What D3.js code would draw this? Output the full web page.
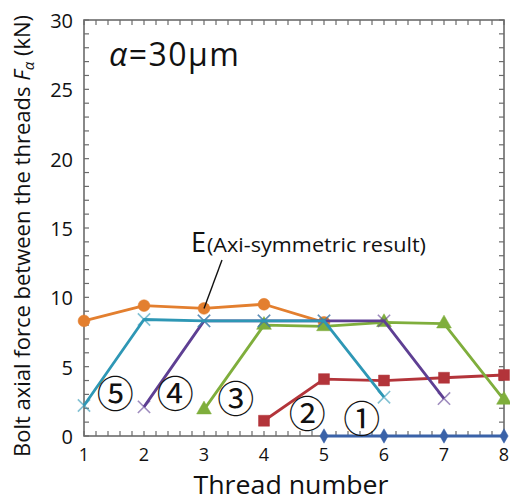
<!DOCTYPE html>
<html>
<head>
<meta charset="utf-8">
<script src="https://cdn.jsdelivr.net/npm/d3@7"></script>
<style>
  html, body { margin: 0; padding: 0; background: #fff; }
  svg { display: block; }
  text { font-family: "Open Sans", "Noto Sans", sans-serif; fill: #111; }
</style>
</head>
<body>
<svg id="chart" width="510" height="504"></svg>
<script>
// Thread numbers and axis ticks
const threads = [1, 2, 3, 4, 5, 6, 7, 8];
const yTicks = [0, 5, 10, 15, 20, 25, 30];

// Bolt axial force between threads (kN) for each case
const caseE = { x: [1, 2, 3, 4, 5], y: [8.3, 9.4, 9.2, 9.5, 8.2] };
const case1 = { x: [5, 6, 7, 8], y: [0, 0, 0, 0] };
const case2 = { x: [4, 5, 6, 7, 8], y: [1.1, 4.1, 4.0, 4.2, 4.4] };
const case3 = { x: [3, 4, 5, 6, 7, 8], y: [1.9, 8.0, 7.9, 8.2, 8.1, 2.6] };
const case4 = { x: [2, 3, 4, 5, 6, 7], y: [2.1, 8.3, 8.3, 8.3, 8.3, 2.7] };
const case5 = { x: [1, 2, 3, 4, 5, 6], y: [2.2, 8.4, 8.3, 8.3, 8.3, 2.8] };

// Labels placed next to each case curve: [label, thread, force]
const caseLabels = [
  ["①", 5.63, 1.4],
  ["②", 4.72, 1.7],
  ["③", 3.53, 2.8],
  ["④", 2.52, 3.2],
  ["⑤", 1.52, 3.2]
];

const series = [
  { d: caseE, color: "#E37F2F", marker: "circle" },
  { d: case1, color: "#3A62A8", marker: "diamond" },
  { d: case2, color: "#B3343A", marker: "square" },
  { d: case3, color: "#7FAE3C", marker: "triangle" },
  { d: case4, color: "#5E3F93", marker: "cross" },
  { d: case5, color: "#2E97B5", marker: "cross" }
];

const svg = d3.select("#chart");
const m = { left: 84, right: 6, top: 20, bottom: 68 };
const W = 510, H = 504;
const x = d3.scaleLinear().domain([1, 8]).range([m.left, W - m.right]);
const y = d3.scaleLinear().domain([0, 30]).range([H - m.bottom, m.top]);

const frameColor = "#6b6b6b";

// Frame with inward ticks on every side
const g = svg.append("g");
const minorX = d3.range(1, 8.001, 0.2);
const minorY = d3.range(0, 30.001, 1);
g.selectAll(".tb").data(minorX).join("line")
  .attr("x1", d => x(d)).attr("x2", d => x(d))
  .attr("y1", y(0)).attr("y2", y(0) - 5)
  .attr("stroke", frameColor).attr("stroke-width", 1.2);
g.selectAll(".tt").data(minorX).join("line")
  .attr("x1", d => x(d)).attr("x2", d => x(d))
  .attr("y1", y(30)).attr("y2", y(30) + 5)
  .attr("stroke", frameColor).attr("stroke-width", 1.2);
g.selectAll(".tl").data(minorY).join("line")
  .attr("x1", x(1)).attr("x2", x(1) + 5)
  .attr("y1", d => y(d)).attr("y2", d => y(d))
  .attr("stroke", frameColor).attr("stroke-width", 1.2);
g.selectAll(".tr").data(minorY).join("line")
  .attr("x1", x(8)).attr("x2", x(8) - 5)
  .attr("y1", d => y(d)).attr("y2", d => y(d))
  .attr("stroke", frameColor).attr("stroke-width", 1.2);
g.append("rect")
  .attr("x", x(1)).attr("y", y(30))
  .attr("width", x(8) - x(1)).attr("height", y(0) - y(30))
  .attr("fill", "none").attr("stroke", frameColor).attr("stroke-width", 1.6);

// Tick labels
svg.selectAll(".xl").data(threads).join("text")
  .attr("x", d => x(d)).attr("y", y(0) + 25)
  .attr("text-anchor", "middle").attr("font-size", 18)
  .text(d => d);
svg.selectAll(".yl").data(yTicks).join("text")
  .attr("x", x(1) - 11).attr("y", d => y(d) + 8)
  .attr("text-anchor", "end").attr("font-size", 20)
  .text(d => d);

// Axis titles
svg.append("text")
  .attr("x", 291).attr("y", 494)
  .attr("text-anchor", "middle").attr("font-size", 26)
  .attr("textLength", 195).attr("lengthAdjust", "spacingAndGlyphs")
  .text("Thread number");

const yt = svg.append("text")
  .attr("transform", "translate(30,236) rotate(-90)")
  .attr("text-anchor", "middle").attr("font-size", 22);
yt.append("tspan").text("Bolt axial force between the threads ");
yt.append("tspan").attr("font-style", "italic").text("F");
yt.append("tspan").attr("font-style", "italic").attr("font-size", 15).attr("dy", 4).text("α");
yt.append("tspan").attr("dy", -4).text(" (kN)");

// Lines and markers
const line = d3.line().x(d => x(d[0])).y(d => y(d[1]));
const symbolFor = {
  circle: d3.symbol().type(d3.symbolCircle).size(110),
  diamond: d3.symbol().type(d3.symbolDiamond).size(60),
  square: d3.symbol().type(d3.symbolSquare).size(120),
  triangle: d3.symbol().type(d3.symbolTriangle).size(95),
  cross: d3.symbol().type(d3.symbolX).size(100)
};

series.forEach(s => {
  const pts = s.d.x.map((v, i) => [v, s.d.y[i]]);
  svg.append("path").datum(pts)
    .attr("d", line).attr("fill", "none")
    .attr("stroke", s.color).attr("stroke-width", 2.8)
    .attr("stroke-linejoin", "round");
  svg.selectAll(null).data(pts).join("path")
    .attr("transform", d => `translate(${x(d[0])},${y(d[1])})`)
    .attr("d", symbolFor[s.marker])
    .attr("fill", s.marker === "cross" ? "none" : s.color)
    .attr("stroke", s.color)
    .attr("stroke-opacity", s.marker === "cross" ? 0.6 : 1)
    .attr("stroke-width", s.marker === "cross" ? 1.6 : 0.5);
});

// Case number labels
svg.selectAll(".cl").data(caseLabels).join("text")
  .attr("x", d => x(d[1])).attr("y", d => y(d[2]))
  .attr("text-anchor", "middle").attr("dominant-baseline", "central")
  .attr("font-size", 37)
  .style("font-family", "'Noto Sans CJK JP', sans-serif")
  .text(d => d[0]);

// Annotation for the axi-symmetric result
svg.append("line")
  .attr("x1", 222).attr("y1", 260).attr("x2", x(3)).attr("y2", y(caseE.y[2]))
  .attr("stroke", "#111").attr("stroke-width", 1.4);
svg.append("text").attr("x", 191).attr("y", 252).attr("font-size", 27).text("E");
svg.append("text").attr("x", 207).attr("y", 252).attr("font-size", 20)
  .attr("textLength", 219).attr("lengthAdjust", "spacingAndGlyphs")
  .text("(Axi-symmetric result)");

// Panel title
const t = svg.append("text").attr("x", 109).attr("y", 66).attr("font-size", 32)
  .attr("letter-spacing", 1.5);
t.append("tspan").attr("font-style", "italic").text("α");
t.append("tspan").text("=30μm");
</script>
</body>
</html>
